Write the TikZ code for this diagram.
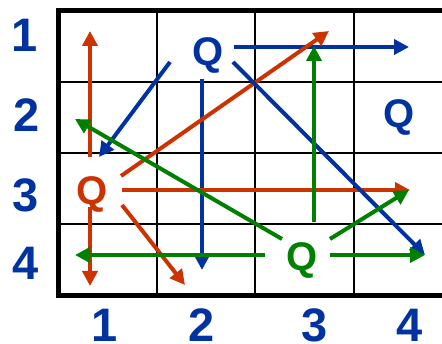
\documentclass[tikz,border=0pt]{standalone}
\usepackage{fontspec}
\setmainfont{Liberation Sans}
\usetikzlibrary{arrows.meta}
\definecolor{qblue}{RGB}{0,51,160}
\definecolor{qred}{RGB}{204,51,0}
\definecolor{qgreen}{RGB}{0,128,0}
\tikzset{
  thinline/.style={line width=2pt,black},
  thickline/.style={line width=5pt,black,line join=miter},
  lab/.style={inner sep=0pt,text=qblue,font=\fontsize{47}{47}\selectfont\bfseries},
  qlab/.style={inner sep=0pt,anchor=base,font=\fontsize{40}{40}\selectfont\bfseries},
  arr/.style={line width=4pt,-{Triangle[length=15pt,width=15pt]}},
}
\begin{document}
\begin{tikzpicture}[x=1pt,y=-1pt]
\useasboundingbox (0,0) rectangle (442,344);
\fill[white] (0,0) rectangle (442,344);
% grid
\foreach \x in {157,255,354} \draw[thinline] (\x,11) -- (\x,296);
\foreach \y in {82,153,224} \draw[thinline] (58,\y) -- (442,\y);
\draw[thickline] (442,11) -- (58,11) -- (58,296) -- (442,296);
% labels
\node[lab] (r1) at (25,35) {1};
\node[lab] (r2) at (27,115) {2};
\node[lab] (r3) at (26,195) {3};
\node[lab] (r4) at (26,263) {4};
\node[lab] (c1) at (105,325) {1};
\node[lab] (c2) at (202,325) {2};
\node[lab] (c3) at (315,325) {3};
\node[lab] (c4) at (410,325) {4};
% queens
\node[qlab,text=qblue] (qb) at (208,66) {Q};
\node[qlab,text=qblue] (qb2) at (399,128) {Q};
\node[qlab,text=qred] (qr) at (92,205) {Q};
\node[qlab,text=qgreen] (qg) at (302,271) {Q};
% coordinates
\coordinate (rs1) at (90,157);  \coordinate (re1) at (90,31);
\coordinate (rs2) at (121,176); \coordinate (re2) at (329,31);
\coordinate (rs3) at (122,190); \coordinate (re3) at (410,190);
\coordinate (rs4) at (90,207);  \coordinate (re4) at (90,286);
\coordinate (rs5) at (122,205); \coordinate (re5) at (185,285);
\coordinate (bs1) at (170,62);  \coordinate (be1) at (99,157);
\coordinate (bs2) at (234,47);  \coordinate (be2) at (409,47);
\coordinate (bs3) at (202,79);  \coordinate (be3) at (202,270);
\coordinate (bs4) at (233,62);  \coordinate (be4) at (425,255);
\coordinate (gs1) at (282,239); \coordinate (ge1) at (75,119);
\coordinate (gs2) at (314,222); \coordinate (ge2) at (314,46);
\coordinate (gs3) at (265,255); \coordinate (ge3) at (75,255);
\coordinate (gs4) at (330,255); \coordinate (ge4) at (425,255);
\coordinate (gs5) at (330,239); \coordinate (ge5) at (409,190);
% blue arrows
\draw[arr,qblue] (bs1) -- (be1);
\draw[arr,qblue] (bs2) -- (be2);
\draw[arr,qblue] (bs3) -- (be3);
% red arrows
\draw[arr,qred] (rs1) -- (re1);
\draw[arr,qred] (rs2) -- (re2);
\draw[arr,qred] (rs3) -- (re3);
\draw[arr,qred] (rs4) -- (re4);
\draw[arr,qred] (rs5) -- (re5);
\draw[arr,qblue] (bs4) -- (be4);
% green arrows
\draw[arr,qgreen] (gs1) -- (ge1);
\draw[arr,qgreen] (gs2) -- (ge2);
\draw[arr,qgreen] (gs3) -- (ge3);
\draw[arr,qgreen] (gs4) -- (ge4);
\draw[arr,qgreen] (gs5) -- (ge5);
\end{tikzpicture}
\end{document}
